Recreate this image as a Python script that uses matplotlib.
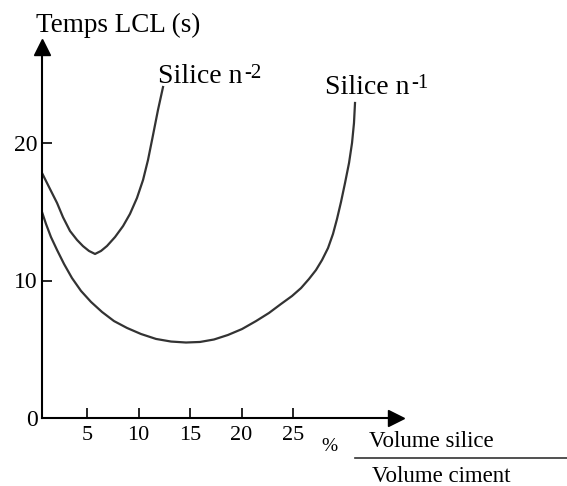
import matplotlib
matplotlib.use("Agg")
import matplotlib.pyplot as plt

plt.rcParams['font.family'] = ['Liberation Serif', 'DejaVu Serif']

# curve "Silice n-2" (upper, steep)
n2_x = [0.63, 1.41, 2.09, 2.67, 3.35, 4.03, 4.61, 5.19, 5.78, 6.36, 6.94,
        7.72, 8.50, 9.17, 9.85, 10.44, 10.92, 11.41, 11.89, 12.38]
n2_y = [17.82, 16.65, 15.64, 14.6, 13.6, 12.95, 12.5, 12.15, 11.93, 12.15, 12.51,
        13.16, 13.96, 14.84, 16.0, 17.31, 18.76, 20.58, 22.4, 24.07]

# curve "Silice n-1" (lower, wide)
n1_x = [0.63, 1.02, 1.50, 2.09, 2.77, 3.54, 4.42, 5.39, 6.46, 7.62, 8.88,
        10.24, 11.70, 13.16, 14.61, 15.97, 17.33, 18.69, 20.05, 21.41, 22.67,
        23.83, 24.9, 25.78, 26.55, 27.23, 27.82, 28.4, 28.88, 29.27, 29.66,
        30.05, 30.44, 30.73, 30.92, 31.02]
n1_y = [14.98, 14.11, 13.16, 12.22, 11.2, 10.18, 9.24, 8.44, 7.71, 7.05, 6.55,
        6.11, 5.75, 5.56, 5.49, 5.53, 5.71, 6.04, 6.47, 7.05, 7.64,
        8.29, 8.87, 9.45, 10.11, 10.76, 11.49, 12.36, 13.38, 14.47, 15.71,
        17.09, 18.55, 20.0, 21.45, 22.91]

x_ticks = [5, 10, 15, 20, 25]
y_ticks = [0, 10, 20]

fig = plt.figure(figsize=(5.67, 4.86), dpi=100)
ax = fig.add_axes([42 / 567, 68 / 486, (550.5 - 42) / 567, 412.5 / 486])
ax.set_xlim(0.63, 50)
ax.set_ylim(0, 30)

ax.plot(n2_x, n2_y, color='#333333', lw=1.6)
ax.plot(n1_x, n1_y, color='#333333', lw=1.6)

# axes drawn as arrows
for s in ['top', 'right']:
    ax.spines[s].set_visible(False)
ax.spines['left'].set_linewidth(1.5)
ax.spines['bottom'].set_linewidth(1.5)
ax.spines['left'].set_bounds(0, 27)
ax.spines['bottom'].set_bounds(0.63, 35)
ax.plot([0.63], [27], marker='^', ms=11, color='k', clip_on=False)
ax.plot([35], [0], marker='>', ms=11, color='k', clip_on=False)

ax.set_xticks(x_ticks)
ax.set_yticks(y_ticks)
ax.tick_params(axis='x', direction='in', length=7, width=1.2, pad=6, labelsize=16)
ax.tick_params(axis='y', direction='in', length=7, width=1.2, pad=3, labelsize=17)

ax.text(0, 28.1, 'Temps LCL (s)', fontsize=19.5, ha='left', va='baseline')

t2 = ax.text(11.9, 24.4, 'Silice n', fontsize=20, ha='left', va='baseline')
ax.annotate('-2', xy=(1.02, 1.0), xycoords=t2, fontsize=15, ha='left', va='top')
t1 = ax.text(28.1, 23.6, 'Silice n', fontsize=20, ha='left', va='baseline')
ax.annotate('-1', xy=(1.02, 1.0), xycoords=t1, fontsize=15, ha='left', va='top')

# x-axis unit: % of volume silice / volume ciment
ax.text(28.5, -2.1, '%', fontsize=14, ha='center', va='center')
ax.text(38.4, -2.1, 'Volume silice', fontsize=16.5, ha='center', va='baseline')
ax.plot([31.0, 51.6], [-2.9, -2.9], color='#333333', lw=1.2, clip_on=False)
ax.text(39.4, -4.25, 'Volume ciment', fontsize=16.5, ha='center', va='center')

plt.savefig('out.png', dpi=100)
plt.close()
